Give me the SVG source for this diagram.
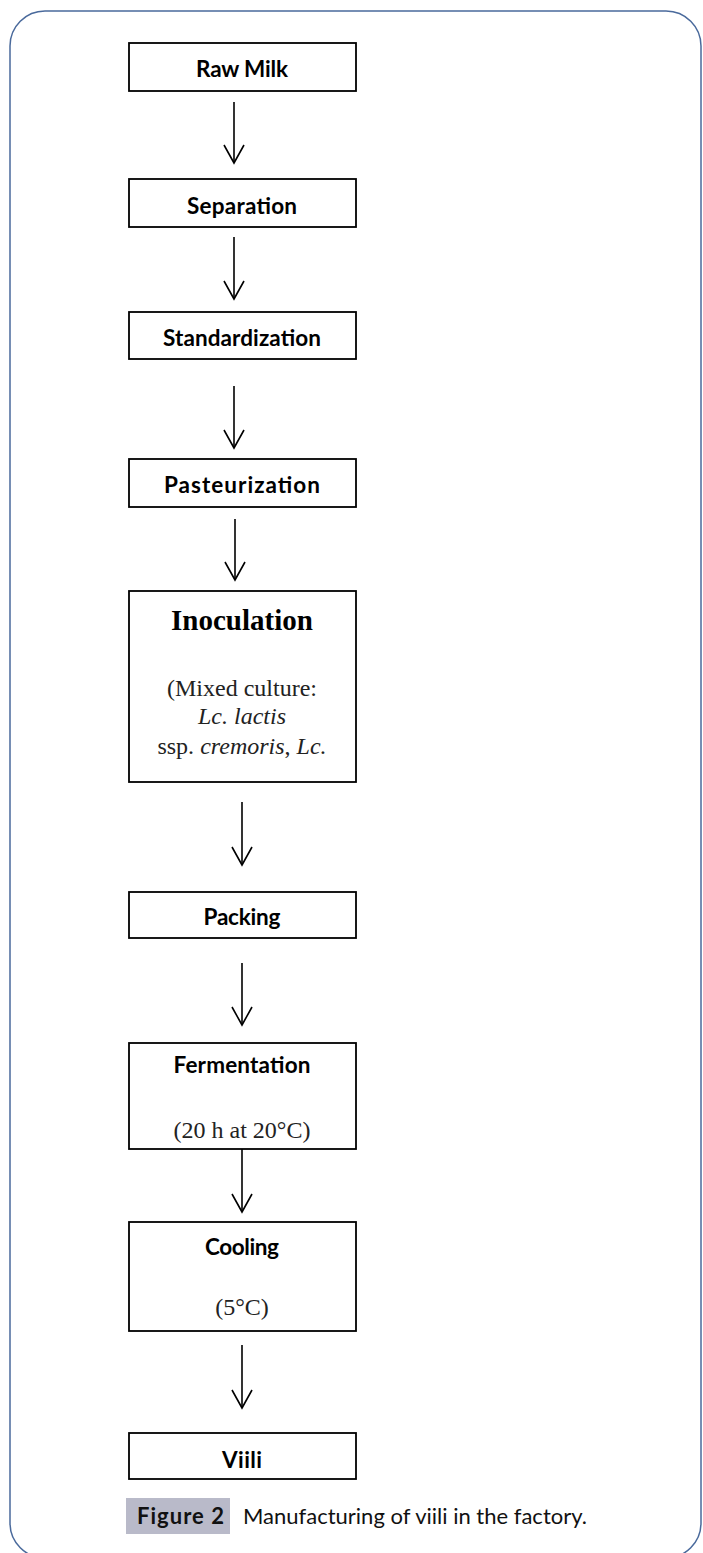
<svg xmlns="http://www.w3.org/2000/svg" width="703" height="1553" viewBox="0 0 703 1553">
<style>
.box{fill:#fff;stroke:#000;stroke-width:1.8}
.lbl{font-family:Lato,"Open Sans","Liberation Sans",sans-serif;font-weight:bold;font-size:22.5px;fill:#000;text-anchor:middle}
.ser{font-family:"Liberation Serif","Times New Roman",serif;font-size:24px;fill:#222;text-anchor:middle}
.serb{font-family:"Liberation Serif","Times New Roman",serif;font-size:29px;font-weight:bold;fill:#000;text-anchor:middle}
.conn line,.conn polyline{fill:none;stroke:#000;stroke-width:1.6}
.cap{font-family:Lato,"Open Sans","Liberation Sans",sans-serif;font-size:22px;fill:#111}
</style>
<rect x="10" y="11" width="691" height="1547" rx="35" ry="35" fill="#fff" stroke="#4a6a9c" stroke-width="1.5"/>
<g id="raw-milk"><rect class="box" x="129" y="43" width="227" height="48"/><text class="lbl" x="242" y="77" textLength="92">Raw Milk</text></g>
<g id="separation"><rect class="box" x="129" y="179" width="227" height="48"/><text class="lbl" x="242" y="214" textLength="110">Separation</text></g>
<g id="standardization"><rect class="box" x="129" y="312" width="227" height="47"/><text class="lbl" x="242" y="346" textLength="158">Standardization</text></g>
<g id="pasteurization"><rect class="box" x="129" y="459" width="227" height="48"/><text class="lbl" x="242" y="493" textLength="156">Pasteurization</text></g>
<g id="inoculation"><rect class="box" x="129" y="591" width="227" height="191"/>
<text class="serb" x="242" y="630">Inoculation</text>
<text class="ser" x="242" y="696">(Mixed culture:</text>
<text class="ser" x="242" y="724"><tspan font-style="italic">Lc. lactis</tspan></text>
<text class="ser" x="242" y="754">ssp. <tspan font-style="italic">cremoris</tspan>, <tspan font-style="italic">Lc.</tspan></text>
</g>
<g id="packing"><rect class="box" x="129" y="892" width="227" height="46"/><text class="lbl" x="242" y="925" textLength="77">Packing</text></g>
<g id="fermentation"><rect class="box" x="129" y="1043" width="227" height="106"/><text class="lbl" x="242" y="1073" textLength="137">Fermentation</text><text class="ser" x="242" y="1138">(20 h at 20°C)</text></g>
<g id="cooling"><rect class="box" x="129" y="1222" width="227" height="109"/><text class="lbl" x="242" y="1255" textLength="74">Cooling</text><text class="ser" x="242" y="1315">(5°C)</text></g>
<g id="viili"><rect class="box" x="129" y="1433" width="227" height="46"/><text class="lbl" x="242" y="1468" textLength="40">Viili</text></g>
<g class="conn" id="connectors">
<line x1="234" y1="102" x2="234" y2="163"/><polyline points="224,145 234,163 244,145"/>
<line x1="234" y1="237" x2="234" y2="299"/><polyline points="224,281 234,299 244,281"/>
<line x1="234" y1="386" x2="234" y2="448"/><polyline points="224,430 234,448 244,430"/>
<line x1="235" y1="519" x2="235" y2="580"/><polyline points="225,562 235,580 245,562"/>
<line x1="242" y1="802" x2="242" y2="865"/><polyline points="232,847 242,865 252,847"/>
<line x1="242" y1="963" x2="242" y2="1025"/><polyline points="232,1007 242,1025 252,1007"/>
<line x1="242" y1="1149" x2="242" y2="1212"/><polyline points="232,1194 242,1212 252,1194"/>
<line x1="242" y1="1345" x2="242" y2="1408"/><polyline points="232,1390 242,1408 252,1390"/>
</g>
<g id="caption">
<rect x="126" y="1498" width="104" height="36" fill="#b9bac9"/>
<text class="cap" x="137" y="1524" font-weight="bold" textLength="87">Figure 2</text>
<text class="cap" x="243" y="1524" textLength="344">Manufacturing of viili in the factory.</text>
</g>
</svg>
